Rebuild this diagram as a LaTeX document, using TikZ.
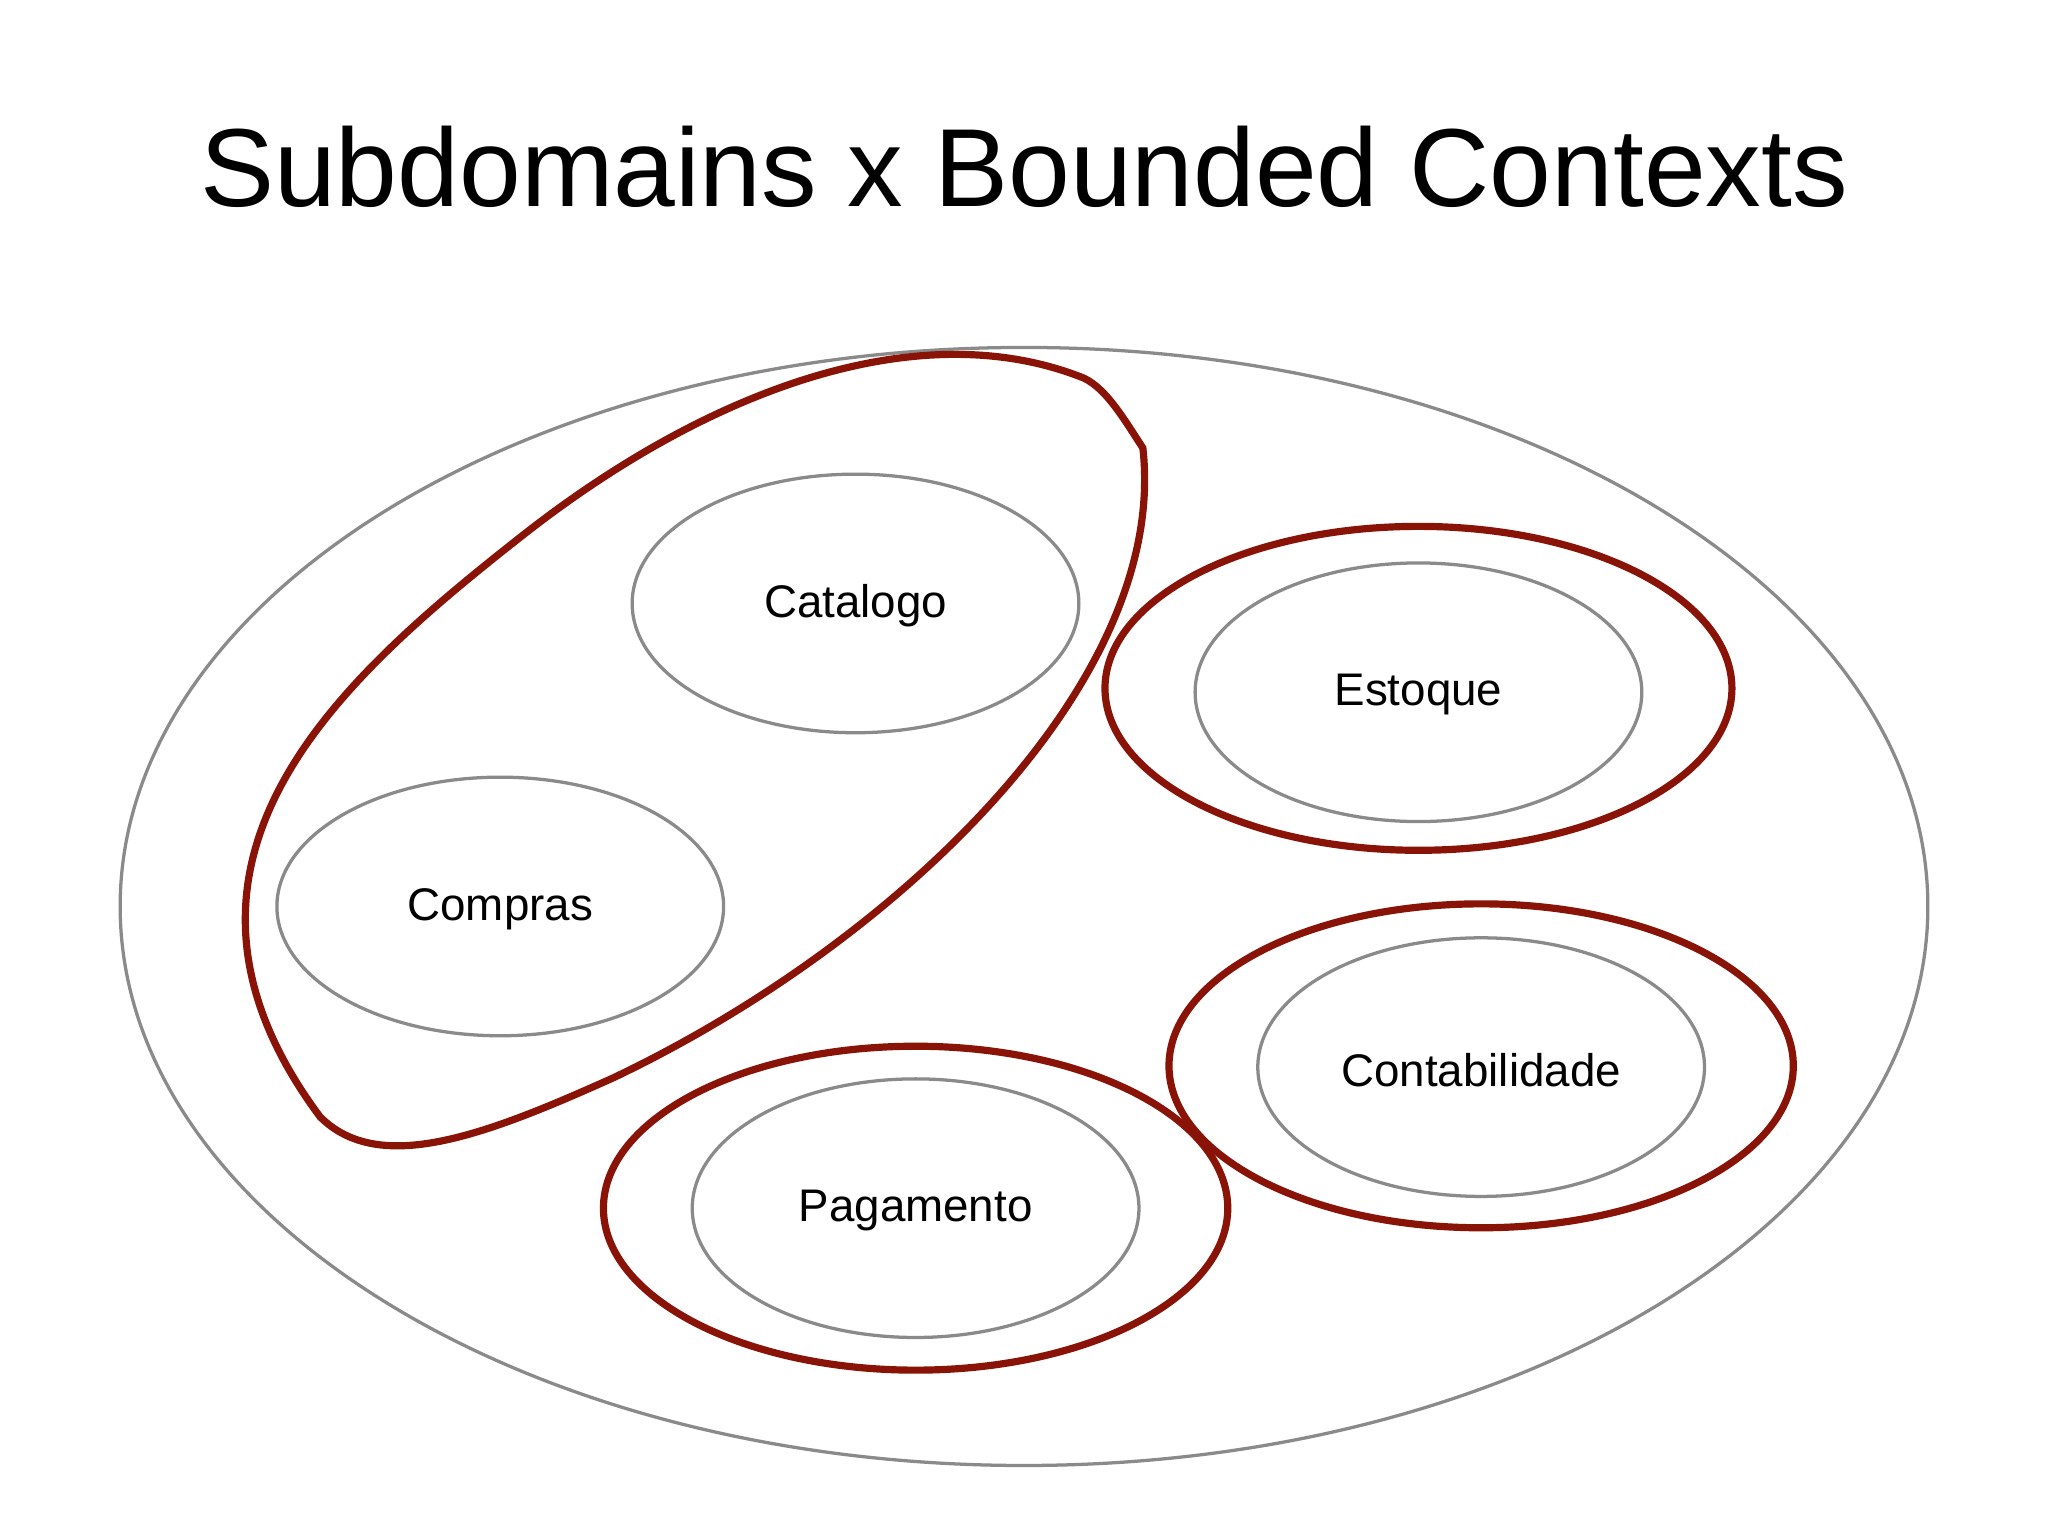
\documentclass[tikz,border=0pt]{standalone}
\usepackage{fontspec}
\setmainfont{Liberation Sans}
\definecolor{ctxred}{HTML}{8A1308}
\definecolor{sdgray}{HTML}{8A8A8A}
\begin{document}
\begin{tikzpicture}[x=1pt,y=-1pt,
  sub/.style={draw=sdgray,line width=2.5pt},
  ctx/.style={draw=ctxred,line width=5.5pt},
  lbl/.style={font=\fontsize{35}{40}\selectfont}]
\useasboundingbox[fill=white] (0,0) rectangle (1568,1176);
\node[font=\fontsize{85}{96}\selectfont] (title) at (784,128) {Subdomains x Bounded Contexts};
\draw[sub] (784,694) ellipse [x radius=692, y radius=428];
\draw[ctx] (875,343) .. controls (860,320) and (845,294) .. (826,288)
  .. controls (700,240) and (540,300) .. (400,410)
  .. controls (260,520) and (100,660) .. (245,855)
  .. controls (290,900) and (370,870) .. (470,825)
  .. controls (690,720) and (895,520) .. (875,343) -- cycle;
\draw[ctx] (1086,527) ellipse [x radius=240, y radius=124];
\draw[ctx] (1134,816) ellipse [x radius=239, y radius=124];
\draw[ctx] (701,925) ellipse [x radius=239, y radius=124];
\draw[sub] (655,462) ellipse [x radius=171, y radius=99];
\draw[sub] (383,694) ellipse [x radius=171, y radius=99];
\draw[sub] (1086,530) ellipse [x radius=171, y radius=99];
\draw[sub] (1134,817) ellipse [x radius=171, y radius=99];
\draw[sub] (701,925) ellipse [x radius=171, y radius=99];
\node[lbl] (catalogo) at (655,464) {Catalogo};
\node[lbl] (compras) at (383,696) {Compras};
\node[lbl] (estoque) at (1086,532) {Estoque};
\node[lbl] (contab) at (1134,819) {Contabilidade};
\node[lbl] (pag) at (701,927) {Pagamento};
\end{tikzpicture}
\end{document}
